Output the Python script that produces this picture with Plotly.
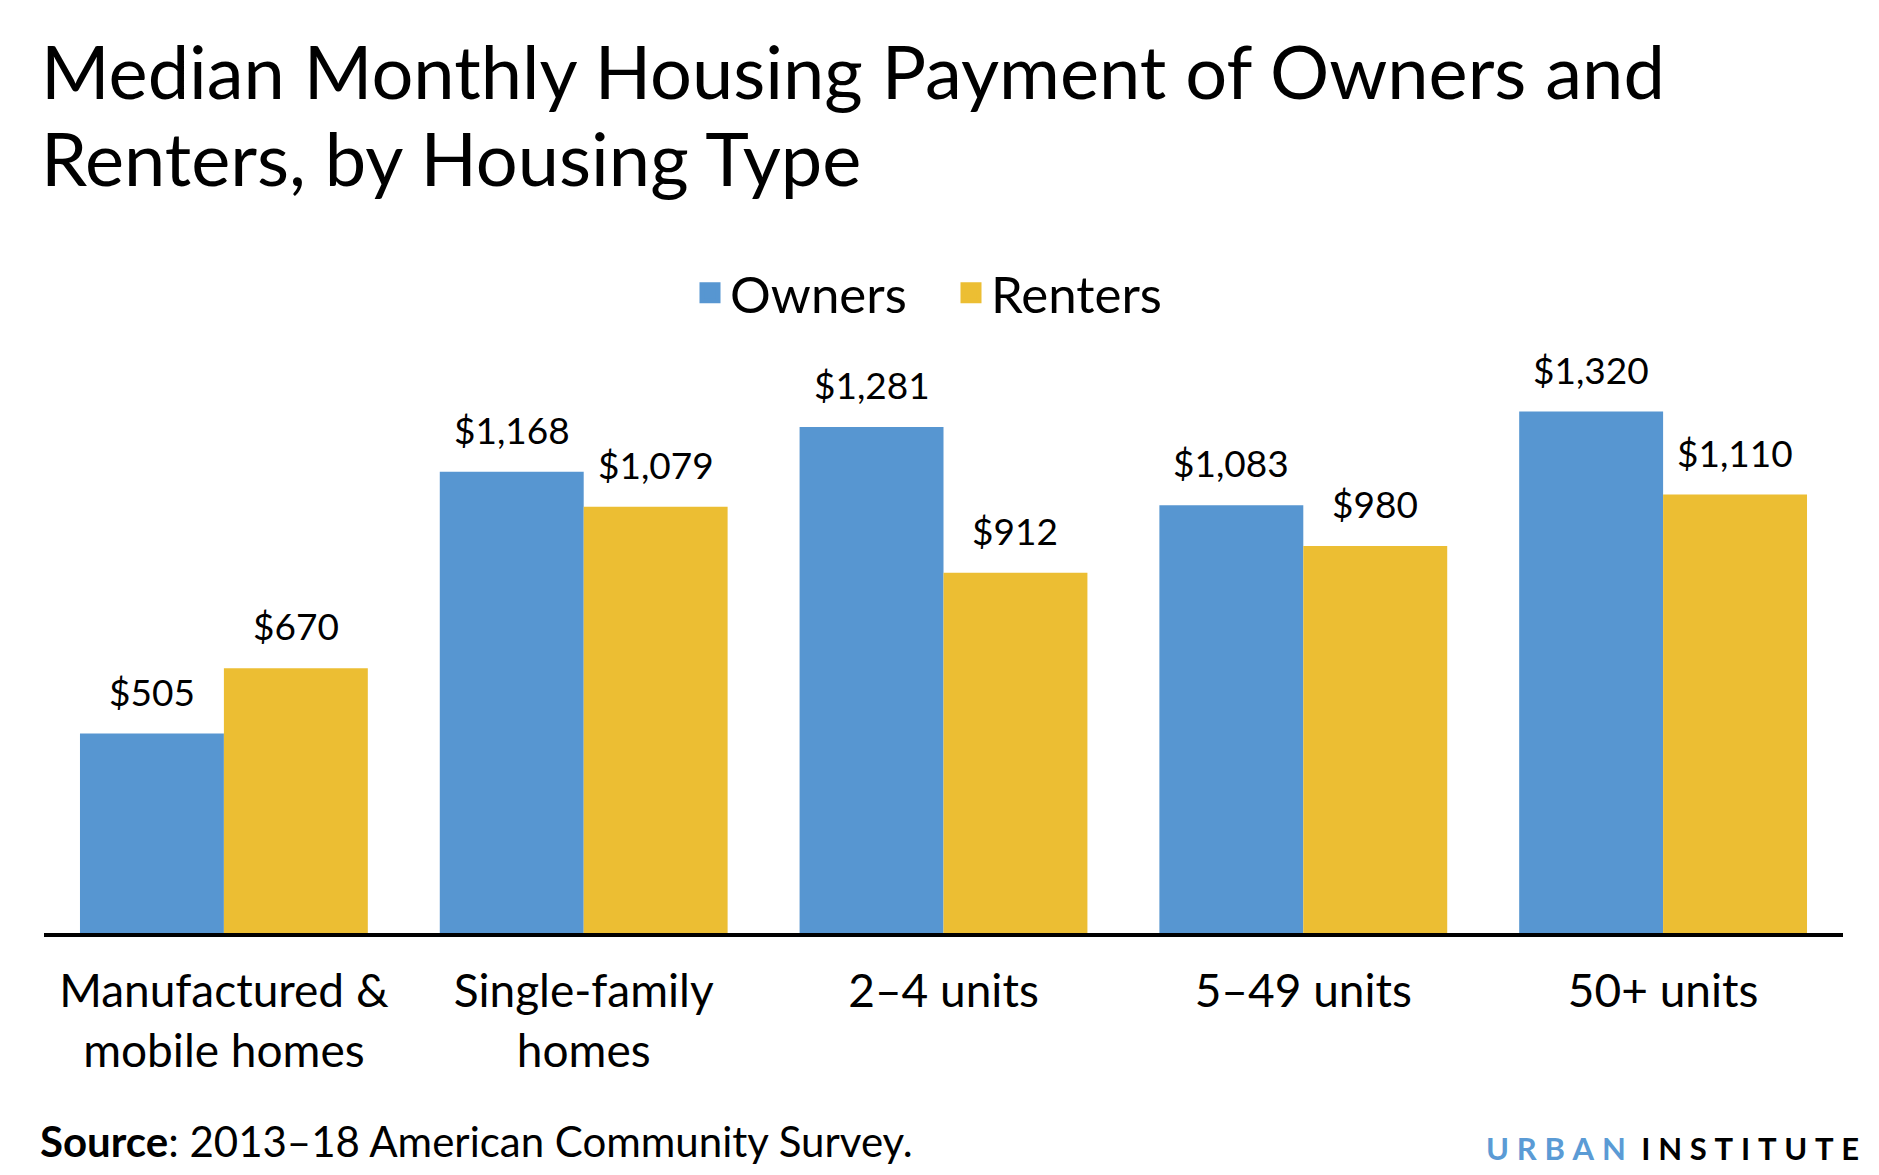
import plotly.graph_objects as go

categories = ["Manufactured &<br>mobile homes", "Single-family<br>homes", "2–4 units", "5–49 units", "50+ units"]
owners = [505, 1168, 1281, 1083, 1320]
renters = [670, 1079, 912, 980, 1110]
series_names = ["Owners", "Renters"]
colors = ["#5796D1", "#ECBE33"]

W, H = 1879, 1175
M_L, M_R, M_T, M_B = 36, 44, 372, 250
BARGAP = 0.2
YMAX = 1400
FONT = "Lato"

def py(pixel_y):
    # convert pixel y (from top) to paper coordinate
    return (H - M_B - pixel_y) / (H - M_T - M_B)

def px(pixel_x):
    return (pixel_x - M_L) / (W - M_L - M_R)

fig = go.Figure()
for name, vals, col in zip(series_names, [owners, renters], colors):
    fig.add_trace(go.Bar(x=categories, y=vals, name=name, marker=dict(color=col, line=dict(width=0)),
                         showlegend=False, hoverinfo="skip"))
    fig.add_trace(go.Scatter(x=[None], y=[None], mode="markers", name=name,
                             marker=dict(symbol="square", size=16, color=col,
                                         line=dict(width=5, color=col))))

# value labels
half = (1 - BARGAP) / 4
for sgn, vals in zip([-1, 1], [owners, renters]):
    for i, v in enumerate(vals):
        fig.add_annotation(x=i + sgn * half, y=v, xref="x", yref="y", text=f"${v:,}",
                           showarrow=False, yanchor="bottom", yshift=18,
                           font=dict(family=FONT, size=37, color="black"))

# title (two lines)
fig.add_annotation(x=px(31), y=py(62), xref="paper", yref="paper", xanchor="left", yanchor="middle",
                   text="Median Monthly Housing Payment of Owners and", showarrow=False,
                   font=dict(family=FONT, size=74, color="black"))
fig.add_annotation(x=px(31), y=py(149), xref="paper", yref="paper", xanchor="left", yanchor="middle",
                   text="Renters, by Housing Type", showarrow=False,
                   font=dict(family=FONT, size=74, color="black"))

# source
fig.add_annotation(x=px(29.5), y=py(1133), xref="paper", yref="paper", xanchor="left", yanchor="middle",
                   text="<b>Source</b>: 2013–18 American Community Survey.", showarrow=False,
                   font=dict(family=FONT, size=42, color="black"))

# branding
ls = "\u2009\u200a\u200a"
urban = ls.join("URBAN")
inst = ls.join("INSTITUTE")
fig.add_annotation(x=px(1853), y=py(1140), xref="paper", yref="paper", xanchor="right", yanchor="middle",
                   text=f"<b><span style='color:#5B9BD5'>{urban}</span>{ls}\u2009\u2009{inst}</b>", showarrow=False,
                   font=dict(family=FONT, size=31, color="black"))

fig.update_layout(
    width=W, height=H,
    margin=dict(l=M_L, r=M_R, t=M_T, b=M_B),
    paper_bgcolor="white", plot_bgcolor="white",
    barmode="group", bargap=BARGAP, bargroupgap=0,
    font=dict(family=FONT, color="black"),
    showlegend=True,
    legend=dict(orientation="h", x=px(943), xanchor="center", y=py(285), yanchor="middle",
                entrywidth=216,
                font=dict(family=FONT, size=51, color="black"), itemclick=False),
    xaxis=dict(showline=True, linecolor="black", linewidth=4, ticks="outside", ticklen=15,
               tickcolor="rgba(0,0,0,0)", showgrid=False,
               tickfont=dict(family=FONT, size=46, color="black"), fixedrange=True),
    yaxis=dict(range=[0, YMAX], visible=False, showgrid=False, fixedrange=True),
)

fig.write_html("out.html")
